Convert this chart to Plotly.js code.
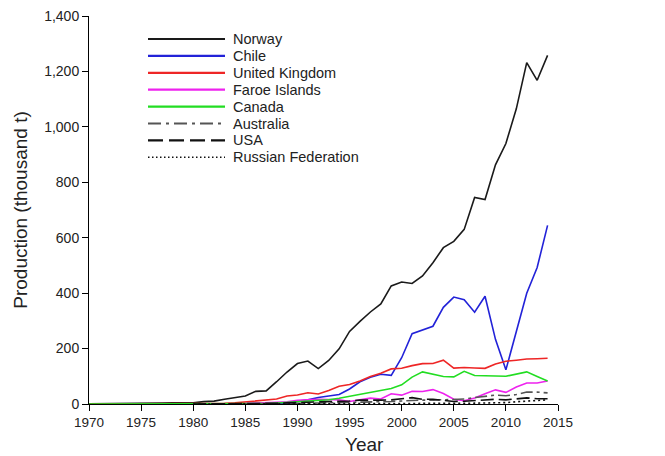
<!DOCTYPE html>
<html>
<head>
<meta charset="utf-8">
<script src="https://cdn.plot.ly/plotly-3.0.1.min.js"></script>
<style>html,body{margin:0;padding:0;background:#fff;}#chart{width:665px;height:456px;}</style>
</head>
<body>
<div id="chart"></div>
<script>
const years = [1970,1971,1972,1973,1974,1975,1976,1977,1978,1979,
  1980,1981,1982,1983,1984,1985,1986,1987,1988,1989,
  1990,1991,1992,1993,1994,1995,1996,1997,1998,1999,
  2000,2001,2002,2003,2004,2005,2006,2007,2008,2009,
  2010,2011,2012,2013,2014];

const norway = [0.5,0.6,1.1,1.5,1.9,1.6,2.6,3.5,4.4,4.4,
  4.2,8.4,10.3,17,22.3,28.7,45.7,47.4,80.4,115.4,
  146,155,128,157,199,262,298,332,361,426,
  440,435,462,510,564,587,630,745,738,863,
  940,1065,1232,1168,1258];

const chile = [null,null,null,null,null,null,null,null,null,null,
  0,0,0,0,0,0.1,0.3,0.7,1,2,
  9.5,14.9,23.7,29.2,34.2,54.3,80.1,96.7,107.1,103.2,
  166.9,253.9,266.5,280.5,348.7,385.8,376.5,331.4,388.9,233.3,
  123.2,264.3,399.7,492.3,644.5];

const unitedKingdom = [0,0,0.1,0.1,0.2,0.5,0.6,0.6,0.6,0.6,
  0.6,1.1,2.1,2.5,3.9,6.9,10.3,12.7,18,28.6,
  32.4,40.6,36.1,48.7,64.1,70.1,83.1,99.2,110.9,126.7,
  128.9,138.5,145.6,145.9,158.1,129.6,131.8,129.9,128.6,144.6,
  154.2,158,162.2,163.2,165];

const faroeIslands = [null,null,null,null,null,null,null,null,null,null,
  0.1,0.1,0.2,0.3,0.6,1.2,3,3.5,6,8,
  13,15,17,16,15,9,16,21,18,37,
  32,46,45,52,38,17,12,22,37,51,
  42,61,76,76,83];

const canada = [0,0,0,0,0,0,0,0,0,0,
  0,0,0.1,0.1,0.2,0.4,0.7,1.4,3.5,5.8,
  7.8,9.7,12.9,15.2,20.6,27.6,32.9,42.1,47.2,56,
  69,97,116,107,99,98,118,103,103,101,
  100,109,116,99,83];

const australia = [null,null,null,null,null,null,null,null,null,null,
  null,null,null,null,null,0,0.1,0.3,0.6,1,
  1.5,2.5,3.5,4,5,6.5,7,7.5,7.5,9,
  11,13,14,14,15,15,18,23,28,32,
  30,34,43,43,40];

const usa = [null,null,null,null,null,null,null,null,null,null,
  0,0,0.1,0.2,0.3,0.5,1.3,1.5,2.5,4,
  5,6,8,10,11,11,14,13,14,15,
  19,23,17,17,13,9,10,12,13,17,
  15,18,22,19,19];

const russia = [null,null,null,null,null,null,null,null,null,null,
  0,0,0,0,0,0,0,0,0,0,
  0,0,0,0,0,0.1,0.1,0.2,0.3,0.5,
  1,1,1.5,2,2,2,2.5,3,3,4,
  5,8,10,13,15];

const seriesNames = ["Norway","Chile","United Kingdom","Faroe Islands","Canada","Australia","USA","Russian Federation"];
const seriesData = [norway, chile, unitedKingdom, faroeIslands, canada, australia, usa, russia];
const xTitle = "Year";
const yTitle = "Production (thousand t)";

const seriesColors = ["#1a1a1a","#2222d8","#ee2626","#ee22ee","#22dd22","#555555","#111111","#111111"];
const seriesDash = ["solid","solid","solid","solid","solid","12px,4px,3px,4px","13px,5px","2px,3px"];
const legendDash = ["solid","solid","solid","solid","solid","13px,5px,3px,5px","15px,6px","1.5px,2.5px"];
const legendWidth = [2.2,2.2,2.2,2.2,2.2,1.8,2.2,1.4];

const traces = seriesNames.map((name, i) => ({
  type: "scatter",
  mode: "lines",
  name: name,
  x: years,
  y: seriesData[i],
  line: {color: seriesColors[i], width: 1.6, dash: seriesDash[i]},
  connectgaps: false,
  showlegend: false
}));

// Manual legend (compact row spacing like the reference)
const plotL = 89, plotT = 16, plotW = 469, plotH = 388;
const px2x = p => (p - plotL) / plotW;
const px2y = p => (plotT + plotH - p) / plotH;
const shapes = [];
const annotations = [];
seriesNames.forEach((name, i) => {
  const yc = px2y(39 + i * 16.9);
  shapes.push({
    type: "line", xref: "paper", yref: "paper",
    x0: px2x(148), x1: px2x(225), y0: yc, y1: yc,
    line: {color: seriesColors[i], width: legendWidth[i], dash: legendDash[i]}
  });
  annotations.push({
    xref: "paper", yref: "paper", x: px2x(231), y: yc,
    xanchor: "left", yanchor: "middle", showarrow: false,
    text: name, font: {family: "Liberation Sans, Arial, sans-serif", size: 14.5, color: "#222"}
  });
});
annotations.push({
  xref: "paper", yref: "paper", x: px2x(364), y: px2y(444),
  xanchor: "center", yanchor: "middle", showarrow: false,
  text: xTitle, font: {family: "Liberation Sans, Arial, sans-serif", size: 19, color: "#222"}
});

const font = "Liberation Sans, Arial, sans-serif";
const layout = {
  width: 665, height: 456,
  margin: {l: 89, r: 107, t: 16, b: 52},
  paper_bgcolor: "#fff", plot_bgcolor: "#fff",
  font: {family: font, size: 13, color: "#222"},
  showlegend: false,
  shapes: shapes,
  annotations: annotations,
  xaxis: {
    range: [1970, 2015], dtick: 5, tick0: 1970,
    showline: true, linecolor: "#000", linewidth: 1,
    ticks: "outside", ticklen: 6, tickcolor: "#000", tickwidth: 1,
    showgrid: false, zeroline: false,
    tickfont: {family: font, size: 13.5, color: "#222"}
  },
  yaxis: {
    range: [0, 1400], dtick: 200, tick0: 0,
    tickformat: ",d",
    showline: true, linecolor: "#000", linewidth: 1,
    ticks: "outside", ticklen: 6, tickcolor: "#000", tickwidth: 1,
    showgrid: false, zeroline: false,
    tickfont: {family: font, size: 14, color: "#222"},
    title: {text: yTitle, font: {family: font, size: 19, color: "#222"}, standoff: 11}
  }
};

Plotly.newPlot("chart", traces, layout, {displayModeBar: false, staticPlot: true});
</script>
</body>
</html>
